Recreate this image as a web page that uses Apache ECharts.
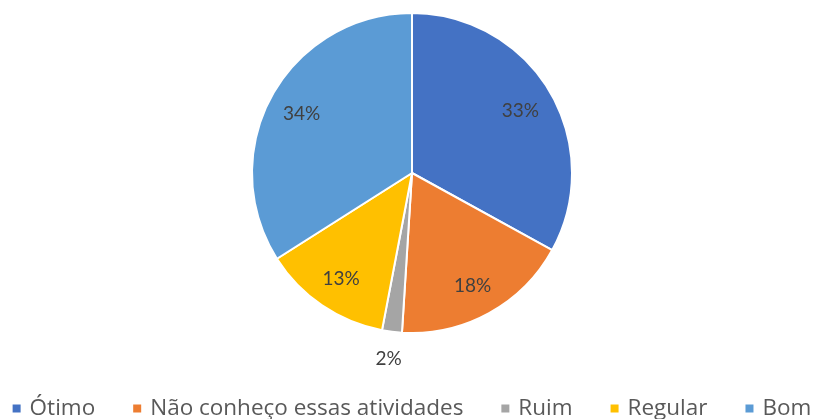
<!DOCTYPE html>
<html>
<head>
<meta charset="utf-8">
<script src="https://cdn.jsdelivr.net/npm/echarts@6/dist/echarts.min.js"></script>
<style>html,body{margin:0;padding:0;background:#fff}#c{width:822px;height:419px}</style>
</head>
<body>
<div id="c"></div>
<script>
const categories = ['Ótimo', 'Não conheço essas atividades', 'Ruim', 'Regular', 'Bom'];
const values = [33, 18, 2, 13, 34];
const colors = ['#4472C4', '#ED7D31', '#A5A5A5', '#FFC000', '#5B9BD5'];
const outsideLabels = ['Ruim'];

const chart = echarts.init(document.getElementById('c'));
const base = categories.map((n, i) => ({ name: n, value: values[i], itemStyle: { color: colors[i] } }));
const labelStyle = { color: '#404040', fontSize: 19, fontFamily: 'Lato', formatter: p => p.value + '%' };

chart.setOption({
  animation: false,
  legend: {
    bottom: -6,
    left: 'center',
    icon: 'rect',
    itemWidth: 10,
    itemHeight: 10,
    itemGap: 36,
    textStyle: { color: '#595959', fontSize: 22.5, fontFamily: 'Open Sans', padding: [0, 0, 0, 3] },
    data: categories
  },
  series: [
    {
      type: 'pie',
      center: [412, 173],
      radius: [0, 160],
      startAngle: 90,
      label: { show: false },
      labelLine: { show: false },
      itemStyle: { borderColor: '#fff', borderWidth: 2 },
      emphasis: { disabled: true },
      data: base
    },
    {
      type: 'pie',
      center: [412, 175],
      radius: [0, 246],
      startAngle: 90,
      silent: true,
      legendHoverLink: false,
      label: Object.assign({ position: 'inside' }, labelStyle),
      labelLine: { show: false },
      emphasis: { disabled: true },
      data: base.map(d => ({ name: d.name + ' ', value: d.value, label: { show: outsideLabels.indexOf(d.name) < 0 }, itemStyle: { color: 'rgba(0,0,0,0)' } }))
    },
    {
      type: 'pie',
      center: [412, 173],
      radius: [0, 368],
      startAngle: 90,
      silent: true,
      legendHoverLink: false,
      label: Object.assign({ position: 'inside' }, labelStyle),
      labelLine: { show: false },
      emphasis: { disabled: true },
      data: base.map(d => ({ name: d.name + '  ', value: d.value, label: { show: outsideLabels.indexOf(d.name) >= 0 }, itemStyle: { color: 'rgba(0,0,0,0)' } }))
    }
  ]
});
</script>
</body>
</html>
